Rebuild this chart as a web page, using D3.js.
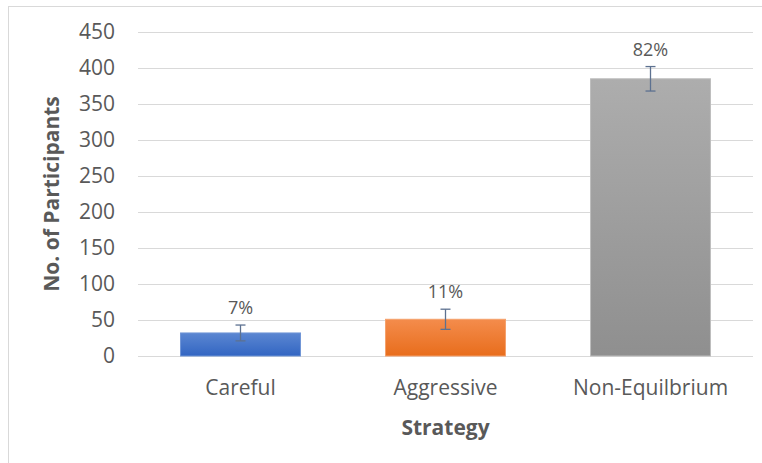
<!DOCTYPE html>
<html>
<head>
<meta charset="utf-8">
<script src="https://cdn.jsdelivr.net/npm/d3@7"></script>
<style>
  body { margin: 0; background: #fff; }
  text { font-family: "Open Sans", sans-serif; }
</style>
</head>
<body>
<div id="chart"></div>
<script>
// chart data
var categories = ["Careful", "Aggressive", "Non-Equilbrium"];
var counts = [32, 51, 385];
var errors = [11, 14, 17];
var percentLabels = ["7%", "11%", "82%"];
var yTicks = [0, 50, 100, 150, 200, 250, 300, 350, 400, 450];

var w = 762, h = 463;
var margin = { top: 32, right: 9, bottom: 107, left: 138 };

var svg = d3.select("#chart")
  .append("svg")
  .attr("width", w)
  .attr("height", h);

// outer chart frame
svg.append("rect")
  .attr("x", 8.5)
  .attr("y", 6.5)
  .attr("width", 900)
  .attr("height", 600)
  .attr("fill", "none")
  .attr("stroke", "#d9d9d9");

var x = d3.scaleBand()
  .domain(categories)
  .range([margin.left, w - margin.right])
  .paddingInner(0.415)
  .paddingOuter(0.2075);

var y = d3.scaleLinear()
  .domain([0, 450])
  .range([h - margin.bottom, margin.top]);

// gradients for bars
var defs = svg.append("defs");
var fills = [["#5b87d2", "#3265c2"], ["#f48c4c", "#e86d1c"], ["#adadad", "#8f8f8f"]];
fills.forEach(function (f, i) {
  var g = defs.append("linearGradient")
    .attr("id", "grad" + i)
    .attr("x1", 0).attr("y1", 0).attr("x2", 0).attr("y2", 1);
  g.append("stop").attr("offset", "0%").attr("stop-color", f[0]);
  g.append("stop").attr("offset", "100%").attr("stop-color", f[1]);
});
var strokes = ["#6f95d6", "#f5a06b", "#bdbdbd"];

// y axis with gridlines
var yAxis = svg.append("g")
  .attr("transform", "translate(" + margin.left + ",0)")
  .call(d3.axisLeft(y)
    .tickValues(yTicks)
    .tickSize(-(w - margin.left - margin.right))
    .tickPadding(23));
yAxis.select(".domain").remove();
yAxis.selectAll(".tick line")
  .attr("stroke", "#d9d9d9")
  .attr("stroke-width", 1);
yAxis.selectAll(".tick text")
  .attr("fill", "#595959")
  .style("font-size", "21px");

// bars
svg.selectAll(".bar")
  .data(counts)
  .enter()
  .append("rect")
  .attr("class", "bar")
  .attr("x", function (d, i) { return x(categories[i]); })
  .attr("y", function (d) { return y(d); })
  .attr("width", x.bandwidth())
  .attr("height", function (d) { return y(0) - y(d); })
  .attr("fill", function (d, i) { return "url(#grad" + i + ")"; })
  .attr("stroke", function (d, i) { return strokes[i]; })
  .attr("stroke-width", 1);

// error bars
var errG = svg.selectAll(".err")
  .data(counts)
  .enter()
  .append("g")
  .attr("class", "err")
  .attr("stroke", "#5d7190")
  .attr("stroke-width", 1.3);
errG.append("line")
  .attr("x1", function (d, i) { return x(categories[i]) + x.bandwidth() / 2; })
  .attr("x2", function (d, i) { return x(categories[i]) + x.bandwidth() / 2; })
  .attr("y1", function (d, i) { return y(d + errors[i]); })
  .attr("y2", function (d, i) { return y(d - errors[i]); });
[1, -1].forEach(function (s) {
  errG.append("line")
    .attr("x1", function (d, i) { return x(categories[i]) + x.bandwidth() / 2 - 5; })
    .attr("x2", function (d, i) { return x(categories[i]) + x.bandwidth() / 2 + 5; })
    .attr("y1", function (d, i) { return y(d + s * errors[i]); })
    .attr("y2", function (d, i) { return y(d + s * errors[i]); });
});

// percent labels above error bars
svg.selectAll(".pct")
  .data(counts)
  .enter()
  .append("text")
  .attr("class", "pct")
  .attr("x", function (d, i) { return x(categories[i]) + x.bandwidth() / 2; })
  .attr("y", function (d, i) { return y(d + errors[i]) - 11; })
  .attr("text-anchor", "middle")
  .attr("fill", "#595959")
  .style("font-size", "18px")
  .text(function (d, i) { return percentLabels[i]; });

// category labels
var xAxis = svg.append("g")
  .attr("transform", "translate(0," + y(0) + ")")
  .call(d3.axisBottom(x).tickSize(0).tickPadding(24));
xAxis.select(".domain").remove();
xAxis.selectAll(".tick text")
  .attr("fill", "#595959")
  .style("font-size", "21px");

// axis titles
svg.append("text")
  .attr("x", (margin.left + w - margin.right) / 2)
  .attr("y", 435)
  .attr("text-anchor", "middle")
  .attr("fill", "#595959")
  .style("font-size", "21px")
  .style("font-weight", "bold")
  .text("Strategy");

svg.append("text")
  .attr("transform", "translate(59," + (y(225)) + ") rotate(-90)")
  .attr("text-anchor", "middle")
  .attr("fill", "#595959")
  .style("font-size", "21px")
  .style("font-weight", "bold")
  .text("No. of Participants");
</script>
</body>
</html>
